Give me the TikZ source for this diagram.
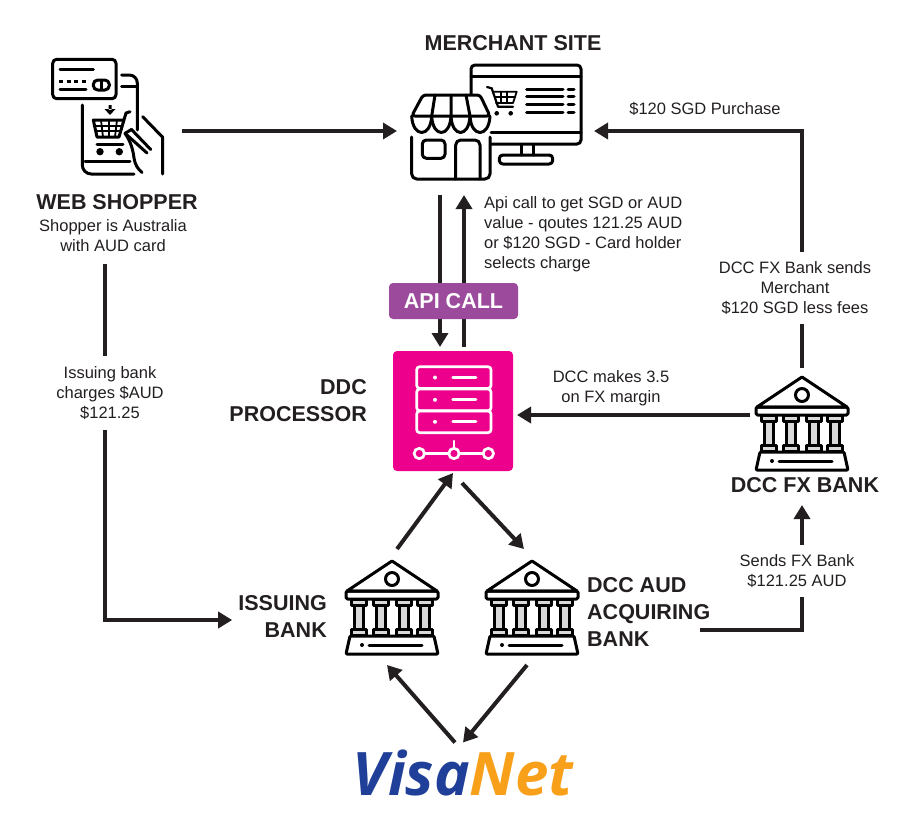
\documentclass[tikz,border=0pt]{standalone}
\usepackage{fontspec}
\setmainfont{Liberation Sans}
\newfontfamily\logofont{Open Sans}
\usepackage{xcolor}
\usetikzlibrary{arrows.meta}

\definecolor{inkdark}{HTML}{231F20}
\definecolor{apipurple}{HTML}{9B4A9C}
\definecolor{ddcpink}{HTML}{EC008C}
\definecolor{visablue}{HTML}{1F3F98}
\definecolor{visaorange}{HTML}{F9A01B}
\definecolor{columngray}{HTML}{D8D8D8}

\tikzset{
    arr/.style={draw=inkdark, line width=4pt, -{Triangle[length=14pt,width=16pt]}},
    hitbox/.style={inner sep=0pt, outer sep=0pt},
    heading/.style={font=\fontsize{21.5}{27}\selectfont\bfseries, text=inkdark, inner sep=0pt, align=center},
    bodytext/.style={font=\fontsize{16.5}{20}\selectfont, text=inkdark, inner sep=0pt, align=center},
    gaplabel/.style={bodytext, fill=white, inner xsep=3pt, inner ysep=9pt},
    icon/.style={draw=black, line width=3pt, line join=round, line cap=round},
    pics/bank/.style={code={
        \draw[icon] (0,-46) -- (-45,-16) -- (45,-16) -- cycle;
        \draw[icon] (0,-28) circle (6.5);
        \draw[icon, rounded corners=1.5pt] (-46,-16) rectangle (46,-8);
        \foreach \cx in {-33,-11.5,11.5,33} {
            \draw[icon, fill=columngray] (\cx-4.5,-2) rectangle (\cx+4.5,22);
            \draw[icon, fill=columngray] (\cx-7.5,-8) rectangle (\cx+7.5,-2);
            \draw[icon, fill=columngray] (\cx-7.5,22) rectangle (\cx+7.5,28);
        }
        \draw[icon, rounded corners=1pt] (-42,29) -- (42,29) -- (46,47) -- (-46,47) -- cycle;
        \fill[black] (-30,38) circle (2);
        \draw[icon] (-23,38) -- (30,38);
    }}
}

\begin{document}
\begin{tikzpicture}[x=1pt, y=-1pt]
    \useasboundingbox (0,0) rectangle (900,820);

    % invisible boxes round the icons, the connectors end on them
    \node[hitbox, minimum width=128pt, minimum height=88pt] (shopper) at (118,131) {};
    \node[hitbox, minimum width=197pt, minimum height=128pt] (store) at (495.5,131) {};
    \node[hitbox, minimum width=104pt, minimum height=137pt] (fxbank) at (802,436.5) {};
    \node[hitbox, minimum width=96pt, minimum height=116pt] (issuing) at (392,607) {};
    \node[hitbox, minimum width=96pt, minimum height=116pt] (acquiring) at (532,607) {};
    \node[hitbox, minimum width=216pt, minimum height=12pt] (visanet) at (463,736.5) {};

    % texts
    \node[heading] (shoppercap) at (117,202) {WEB SHOPPER};
    \node[bodytext] (shoppertext) at (113,236) {Shopper is Australia\\with AUD card};
    \node[heading] (storecap) at (513,43) {MERCHANT SITE};
    \node[heading, anchor=east, align=right] (ddccap) at (367,400.5) {DDC\\PROCESSOR};
    \node[heading] (fxcap) at (805,485) {DCC FX BANK};
    \node[heading, anchor=east, align=right] (issuingcap) at (327,616.5) {ISSUING\\BANK};
    \node[heading, anchor=west, align=left] (acquiringcap) at (587,611.5) {DCC AUD\\ACQUIRING\\BANK};
    \node[bodytext, anchor=west, align=left] (apitext) at (484,234) {Api call to get SGD or AUD\\value - qoutes 121.25 AUD\\or \$120 SGD - Card holder\\selects charge};
    \node[bodytext] (purchasetext) at (705,109) {\$120 SGD Purchase};
    \node[bodytext] (margintext) at (611,388) {DCC makes 3.5\\on FX margin};
    \coordinate (sendstart) at (700,630);

    % DDC box
    \node[fill=ddcpink, rounded corners=4pt, minimum width=120pt, minimum height=120pt, outer sep=4pt] (ddc) at (453,411) {};

    % shopper -> store
    \draw[arr] (shopper) -- (store);

    % store <-> DDC
    \draw[arr] ([xshift=-13pt]ddc.north |- store.south) -- ([xshift=-13pt]ddc.north);
    \draw[arr] ([xshift=11pt]ddc.north) -- ([xshift=11pt]ddc.north |- store.south);
    \node[fill=apipurple, rounded corners=4pt, minimum width=129pt, minimum height=36pt, text=white, font=\fontsize{21.5}{26}\selectfont\bfseries, inner sep=0pt] (api) at (453.5,301) {API CALL};

    % FX bank -> store
    \draw[arr] (fxbank.north) |- (store.east);
    \node[gaplabel] (sendtext) at (795,288) {DCC FX Bank sends\\Merchant\\\$120 SGD less fees};

    % FX bank -> DDC
    \draw[arr] ([yshift=-4pt]ddc.east -| fxbank.west) -- ([yshift=-4pt]ddc.east);

    % acquiring -> FX bank
    \draw[arr] (sendstart) -| (fxbank.south);
    \node[gaplabel] (fxtext) at (797,571) {Sends FX Bank\\\$121.25 AUD};

    % shopper -> issuing
    \draw[arr] ([xshift=-8pt,yshift=-12pt]shoppertext.south) |- ([xshift=-6pt,yshift=-3.5pt]issuingcap.west);
    \node[gaplabel, inner ysep=10pt] (chargetext) at (110,393) {Issuing bank\\charges \$AUD\\\$121.25};

    % issuing <-> DDC <-> acquiring
    \draw[arr] ([xshift=5pt]issuing.north) -- ([yshift=2pt]ddc.south);
    \draw[arr] ([xshift=9pt,yshift=-8pt]ddc.south) -- ([xshift=-8pt]acquiring.north);

    % VisaNet -> banks
    \draw[arr] ([xshift=-8pt]visanet.south) -- ([xshift=-5pt]issuing.south);
    \draw[arr] ([xshift=-5pt]acquiring.south) -- (visanet.south);

    % logo
    \node[font=\fontsize{60}{60}\logofont\bfseries\itshape, inner sep=0pt, anchor=base] (logo) at (463,795) {\textcolor{visablue}{Visa}\textcolor{visaorange}{Net}};

    % banks
    \pic at (issuing) {bank};
    \pic at (acquiring) {bank};
    \pic at (802,423) {bank};

    % shopper icon
    \draw[icon, rounded corners=4pt] (52.7,59.3) rectangle (116,98.7);
    \draw[icon] (60,69.3) -- (93.3,69.3);
    \draw[icon, line cap=butt, dash pattern=on 4pt off 3.5pt] (59,81) -- (86,81);
    \draw[icon] (60,89.3) -- (86,89.3);
    \draw[icon, rounded corners=4.5pt] (93.3,80) rectangle (109.3,90);
    \draw[icon] (101.3,81) -- (101.3,89);
    \draw[icon, rounded corners=8pt] (121.7,75) -- (137.3,75) -- (137.3,130);
    \draw[icon] (121.7,86.7) -- (137.3,86.7);
    \draw[icon, rounded corners=9pt] (82.3,105) -- (82.3,174) -- (134,174);
    \draw[icon] (85,161.7) -- (130,161.7);
    \fill[black] (108.5,105) rectangle (111.5,110) (104.5,109) -- (115.5,109) -- (110,115) -- cycle;
    \draw[icon] (130,111.7) -- (126,113) -- (119,137) -- (97,137) -- (93.3,120) -- (124,120);
    \draw[icon, line width=1.8pt] (94.5,126) -- (122,126) (96,131) -- (121,131) (101,120) -- (103,137) (109,120) -- (109,137) (117,120) -- (115,137);
    \draw[icon] (97,144) -- (123,144);
    \fill[black] (100,151.7) circle (3.7) (119.3,151.7) circle (3.7);
    \draw[icon] (142.7,116.7) -- (162.7,137.3) -- (162.7,174);
    \draw[icon] (131.5,129.5) -- (150.7,149.5) (125,133.3) -- (147,153);
    \draw[icon] (125,133.3) -- (131.5,129.5);
    \draw[icon] (125,133.3) .. controls (131,142) and (133,150) .. (134,158) .. controls (135,165) and (138,169) .. (142,172.5);

    % store icon
    \draw[icon, rounded corners=4pt] (471,95) -- (471,65) -- (581,65) -- (581,144) -- (491,144);
    \draw[icon] (471,76) -- (581,76);
    \draw[icon] (491,132.7) -- (581,132.7);
    \draw[icon] (521.7,145) -- (521.7,155) (533.3,145) -- (533.3,155);
    \draw[icon, rounded corners=3.5pt] (499.3,155) rectangle (552.7,164);
    \draw[icon, line width=2.2pt] (487,87) -- (491.7,88.3) -- (498,106.7) -- (513,106.7);
    \draw[icon, line width=1.8pt] (493,91.7) -- (516.7,91.7) -- (513,103) -- (496,103);
    \draw[icon, line width=1.2pt] (495,97) -- (515,97) (501,92) -- (501,103) (507,92) -- (507,103);
    \fill[black] (496.7,113.3) circle (2.3) (510.7,113.3) circle (2.3);
    \foreach \ty in {89.3,96.7,104.3,112} {
        \draw[icon] (526.7,\ty) -- (563,\ty);
        \draw[icon] (568,\ty) -- (574,\ty);
    }
    \draw[icon, rounded corners=3pt, fill=white] (423,95) -- (480,95) -- (490,116) -- (411.7,116) -- cycle;
    \draw[icon] (435,95) -- (431.7,116) (451,95) -- (451,116) (466,95) -- (470,116);
    \foreach \ax/\bx in {411.7/431.7, 431.7/451, 451/470, 470/490} {
        \draw[icon] (\ax,116) .. controls (\ax+1,138) and (\bx-1,138) .. (\bx,116);
    }
    \draw[icon, rounded corners=5pt] (411.7,137) -- (411.7,179) -- (490,179) -- (490,137);
    \draw[icon, rounded corners=4pt] (422.3,140) rectangle (445,158.3);
    \draw[icon, rounded corners=5pt] (455.7,179) -- (455.7,140) -- (480,140) -- (480,179);

    % server icon
    \begin{scope}[draw=white, line width=2.7pt, line cap=round]
        \foreach \sy in {366.7,389,411} {
            \draw[rounded corners=3pt] (416.7,\sy) rectangle (491,\sy+21.7);
            \fill[white] (435,\sy+10.8) circle (2);
            \draw (452.7,\sy+10.8) -- (476,\sy+10.8);
        }
        \draw (454,441) -- (454,448);
        \draw (424,453.5) -- (449,453.5) (459,453.5) -- (483,453.5);
        \foreach \cx in {419.3,454,488.3} {
            \draw (\cx,453.5) circle (5.2);
        }
    \end{scope}
\end{tikzpicture}
\end{document}
